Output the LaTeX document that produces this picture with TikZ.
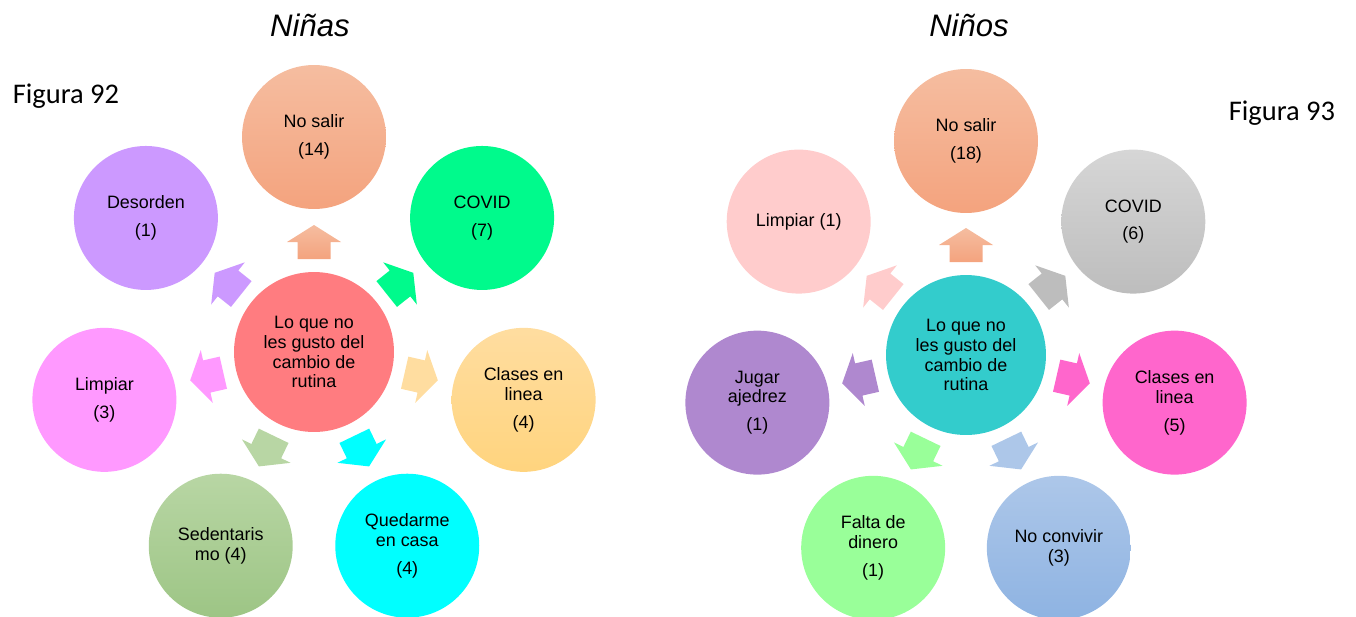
\documentclass[tikz,border=0pt]{standalone}
\usepackage{fontspec}
\setmainfont{Liberation Sans}
\newfontfamily\calibri{Carlito}
\usetikzlibrary{calc}
\definecolor{hubred}{HTML}{FF7C80}
\definecolor{hubteal}{HTML}{33CCCC}
\definecolor{peachT}{HTML}{F5BDA0}
\definecolor{peachB}{HTML}{F4A37E}
\definecolor{covgreen}{HTML}{00FA8C}
\definecolor{orT}{HTML}{FFDDA0}
\definecolor{orB}{HTML}{FFD47E}
\definecolor{cyanx}{HTML}{00FFFF}
\definecolor{grT}{HTML}{B8D6A4}
\definecolor{grB}{HTML}{9DC585}
\definecolor{pinkx}{HTML}{FF99FF}
\definecolor{lilac}{HTML}{CC99FF}
\definecolor{grayT}{HTML}{D6D6D6}
\definecolor{grayB}{HTML}{BDBDBD}
\definecolor{magx}{HTML}{FF66CC}
\definecolor{blT}{HTML}{ADC7E9}
\definecolor{blB}{HTML}{8EB3E2}
\definecolor{lgreen}{HTML}{99FF99}
\definecolor{purp}{HTML}{AF88CF}
\definecolor{rosy}{HTML}{FFCCCC}
\newcommand\lab{\fontsize{10.2}{11.3}\selectfont}
\newcommand\blockarr[3]{\path[#3, shift={(#1)}, rotate=#2] (93,-16.5) -- (110,-16.5) -- (110,-27) -- (127,0) -- (110,27) -- (110,16.5) -- (93,16.5) -- cycle;}
\begin{document}
\begin{tikzpicture}[x=0.02cm,y=0.02cm,
  bub/.style={circle, minimum size=2.88cm, inner sep=0pt, align=center, font=\lab},
  hub/.style={circle, minimum size=3.2cm, inner sep=0pt, align=center, font=\lab},
  ttl/.style={font=\fontsize{17.7}{20}\selectfont\itshape},
  fig/.style={font=\calibri\fontsize{16.2}{19}\selectfont}]
\useasboundingbox (0,0) rectangle (1356,-616);

% ---------- left: Niñas ----------
\node[ttl] (tL) at (310,-25) {Niñas};
\node[fig] (fL) at (66,-96) {Figura 92};
\coordinate (L) at (314,-352);
\node[hub, fill=hubred] (Lc) at (L) {Lo que no\\les gusto del\\cambio de\\rutina};
\node[bub, top color=peachT, bottom color=peachB] (L1) at ([shift={(90:215)}]L) {No salir\\[4.5pt](14)};
\node[bub, fill=covgreen] (L2) at ([shift={(38.57:215)}]L) {COVID\\[4.5pt](7)};
\node[bub, top color=orT, bottom color=orB] (L3) at ([shift={(-12.86:215)}]L) {Clases en\\linea\\[4.5pt](4)};
\node[bub, fill=cyanx] (L4) at ([shift={(-64.29:215)}]L) {Quedarme\\en casa\\[4.5pt](4)};
\node[bub, top color=grT, bottom color=grB] (L5) at ([shift={(-115.71:215)}]L) {Sedentaris\\mo (4)};
\node[bub, fill=pinkx] (L6) at ([shift={(-167.14:215)}]L) {Limpiar\\[4.5pt](3)};
\node[bub, fill=lilac] (L7) at ([shift={(141.43:215)}]L) {Desorden\\[4.5pt](1)};
\blockarr{L}{90}{top color=peachT, bottom color=peachB}
\blockarr{L}{38.57}{fill=covgreen}
\blockarr{L}{-12.86}{fill=orT}
\blockarr{L}{-64.29}{fill=cyanx}
\blockarr{L}{-115.71}{fill=grT}
\blockarr{L}{-167.14}{fill=pinkx}
\blockarr{L}{141.43}{fill=lilac}

% ---------- right: Niños ----------
\node[ttl] (tR) at (969,-25) {Niños};
\node[fig] (fR) at (1282,-113) {Figura 93};
\coordinate (R) at (966,-355);
\node[hub, fill=hubteal] (Rc) at (R) {Lo que no\\les gusto del\\cambio de\\rutina};
\node[bub, top color=peachT, bottom color=peachB] (R1) at ([shift={(90:214)}]R) {No salir\\[4.5pt](18)};
\node[bub, top color=grayT, bottom color=grayB] (R2) at ([shift={(38.57:214)}]R) {COVID\\[4.5pt](6)};
\node[bub, fill=magx] (R3) at ([shift={(-12.86:214)}]R) {Clases en\\linea\\[4.5pt](5)};
\node[bub, top color=blT, bottom color=blB] (R4) at ([shift={(-64.29:214)}]R) {No convivir\\(3)};
\node[bub, fill=lgreen] (R5) at ([shift={(-115.71:214)}]R) {Falta de\\dinero\\[4.5pt](1)};
\node[bub, fill=purp] (R6) at ([shift={(-167.14:214)}]R) {Jugar\\ajedrez\\[4.5pt](1)};
\node[bub, fill=rosy] (R7) at ([shift={(141.43:214)}]R) {Limpiar (1)};
\blockarr{R}{90}{top color=peachT, bottom color=peachB}
\blockarr{R}{38.57}{fill=grayB}
\blockarr{R}{-12.86}{fill=magx}
\blockarr{R}{-64.29}{fill=blT}
\blockarr{R}{-115.71}{fill=lgreen}
\blockarr{R}{-167.14}{fill=purp}
\blockarr{R}{141.43}{fill=rosy}
\end{tikzpicture}
\end{document}
